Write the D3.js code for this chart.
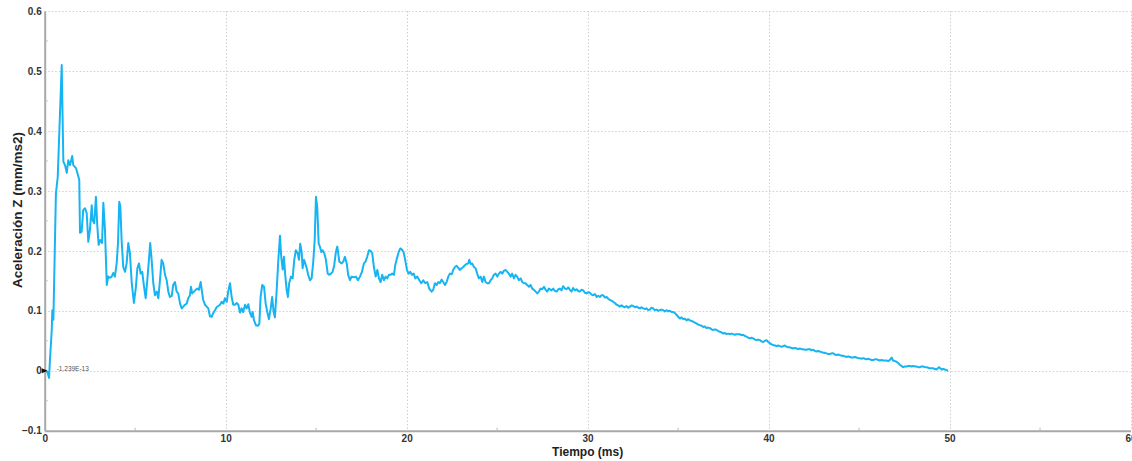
<!DOCTYPE html>
<html>
<head>
<meta charset="utf-8">
<script src="https://cdn.jsdelivr.net/npm/d3@7"></script>
<style>
  html, body { margin: 0; padding: 0; background: #ffffff; }
  svg { display: block; }
  text { font-family: "Liberation Sans", Arial, sans-serif; }
</style>
</head>
<body>
<svg id="chart" width="1132" height="461"></svg>
<script>
// Time samples (ms)
const tiempo = [
  0.00,0.15,0.24,0.29,0.39,0.42,0.48,0.62,0.72,0.94,1.03,1.12,1.22,1.30,1.40,1.52,1.58,1.73,1.86,1.91,
  1.95,2.04,2.13,2.23,2.32,2.41,2.50,2.60,2.65,2.74,2.83,2.91,2.98,3.07,3.17,3.24,3.33,3.43,3.51,3.61,
  3.70,3.79,3.88,3.98,4.05,4.12,4.18,4.25,4.34,4.44,4.53,4.62,4.71,4.81,4.93,5.04,5.12,5.21,5.30,5.39,
  5.49,5.58,5.67,5.76,5.83,5.91,6.00,6.09,6.19,6.28,6.37,6.46,6.55,6.65,6.74,6.83,6.92,7.02,7.10,7.20,
  7.29,7.38,7.48,7.57,7.66,7.75,7.85,7.93,8.03,8.08,8.15,8.25,8.34,8.43,8.52,8.62,8.69,8.76,8.86,8.95,
  9.04,9.13,9.23,9.31,9.41,9.50,9.59,9.69,9.78,9.87,9.96,10.06,10.14,10.24,10.33,10.42,10.51,10.61,10.70,10.79,
  10.88,10.97,11.07,11.16,11.25,11.34,11.44,11.49,11.56,11.67,11.78,11.86,11.93,12.02,12.12,12.21,12.30,12.39,12.49,12.57,
  12.65,12.72,12.82,12.91,13.00,13.07,13.15,13.22,13.29,13.37,13.44,13.51,13.61,13.70,13.79,13.88,13.98,14.05,14.12,14.20,
  14.25,14.33,14.40,14.48,14.56,14.66,14.75,14.84,14.92,14.99,15.06,15.14,15.21,15.28,15.36,15.45,15.54,15.64,15.72,15.82,
  15.91,16.00,16.09,16.17,16.28,16.41,16.50,16.59,16.69,16.77,16.87,16.96,17.09,17.20,17.31,17.42,17.53,17.64,17.73,17.82,
  17.92,18.01,18.10,18.19,18.29,18.38,18.47,18.56,18.65,18.75,18.84,18.93,19.02,19.12,19.20,19.30,19.37,19.46,19.56,19.65,
  19.74,19.83,19.92,20.02,20.11,20.20,20.29,20.39,20.48,20.59,20.70,20.81,20.92,21.03,21.14,21.25,21.38,21.47,21.56,21.66,
  21.75,21.84,21.93,22.02,22.12,22.21,22.30,22.39,22.49,22.57,22.67,22.76,22.85,22.94,23.04,23.13,23.22,23.31,23.40,23.46,
  23.54,23.62,23.72,23.81,23.90,23.99,24.09,24.18,24.27,24.36,24.45,24.55,24.64,24.73,24.82,24.92,25.01,25.10,25.19,25.28,
  25.38,25.47,25.56,25.65,25.75,25.83,25.93,26.02,26.11,26.20,26.30,26.39,26.48,26.57,26.66,26.76,26.85,26.94,27.03,27.13,
  27.22,27.31,27.40,27.49,27.59,27.68,27.77,27.86,28.01,28.10,28.20,28.29,28.38,28.47,28.56,28.65,28.75,28.84,28.93,29.02,
  29.11,29.20,29.30,29.39,29.48,29.57,29.67,29.76,29.85,29.94,30.04,30.13,30.22,30.31,30.41,30.50,30.59,30.68,30.77,30.86,
  30.96,31.05,31.14,31.23,31.32,31.41,31.51,31.60,31.69,31.78,31.88,31.97,32.06,32.15,32.25,32.34,32.43,32.52,32.62,32.71,
  32.80,32.89,32.98,33.07,33.17,33.26,33.35,33.44,33.53,33.62,33.72,33.81,33.90,33.99,34.09,34.18,34.27,34.36,34.46,34.55,
  34.64,34.73,34.83,34.92,35.01,35.10,35.19,35.28,35.38,35.47,35.56,35.65,35.75,35.83,35.93,36.02,36.11,36.20,36.30,36.39,
  36.48,36.57,36.67,36.76,36.85,36.94,37.04,37.13,37.22,37.31,37.40,37.49,37.59,37.68,37.77,37.86,37.95,38.04,38.14,38.23,
  38.32,38.41,38.51,38.60,38.69,38.78,38.88,38.97,39.06,39.15,39.25,39.34,39.43,39.52,39.61,39.70,39.80,39.89,39.98,40.07,
  40.16,40.25,40.35,40.44,40.53,40.62,40.72,40.81,40.90,40.99,41.09,41.18,41.27,41.36,41.46,41.55,41.64,41.73,41.82,41.91,
  42.01,42.10,42.19,42.28,42.37,42.46,42.56,42.65,42.74,42.83,42.93,43.02,43.11,43.20,43.30,43.39,43.48,43.57,43.67,43.76,
  43.85,43.94,44.03,44.12,44.22,44.31,44.40,44.49,44.58,44.67,44.77,44.86,44.95,45.04,45.14,45.23,45.32,45.41,45.51,45.60,
  45.69,45.78,45.88,45.97,46.06,46.15,46.24,46.33,46.43,46.52,46.61,46.70,46.80,46.88,46.98,47.07,47.16,47.25,47.35,47.44,
  47.53,47.62,47.72,47.81,47.90,47.99,48.09,48.18,48.27,48.36,48.45,48.54,48.64,48.73,48.82,48.91,49.01,49.10,49.19,49.28,
  49.42,49.56,49.65,49.74,49.83,49.92
];

// Acceleration Z (mm/ms2) at each sample
const aceleracionZ = [
  0.000,-0.002,-0.012,0.018,0.068,0.101,0.085,0.296,0.323,0.510,0.349,0.343,0.330,0.351,0.343,0.358,0.343,0.338,0.324,0.318,
  0.230,0.232,0.268,0.271,0.263,0.215,0.235,0.276,0.251,0.246,0.290,0.240,0.210,0.218,0.213,0.280,0.235,0.143,0.157,0.155,
  0.157,0.163,0.157,0.180,0.213,0.282,0.274,0.218,0.173,0.165,0.180,0.213,0.196,0.146,0.113,0.140,0.171,0.179,0.162,0.165,
  0.140,0.121,0.151,0.185,0.213,0.185,0.146,0.126,0.132,0.121,0.151,0.185,0.179,0.160,0.151,0.132,0.123,0.125,0.143,0.148,
  0.132,0.129,0.112,0.104,0.107,0.110,0.112,0.121,0.126,0.140,0.129,0.132,0.135,0.137,0.135,0.148,0.132,0.118,0.110,0.107,
  0.104,0.091,0.090,0.096,0.101,0.106,0.108,0.110,0.115,0.112,0.121,0.115,0.132,0.146,0.123,0.110,0.110,0.113,0.110,0.097,
  0.104,0.098,0.110,0.104,0.111,0.097,0.090,0.098,0.085,0.076,0.075,0.078,0.123,0.143,0.140,0.112,0.098,0.086,0.104,0.123,
  0.098,0.089,0.135,0.185,0.225,0.190,0.169,0.190,0.160,0.135,0.123,0.146,0.157,0.154,0.185,0.201,0.196,0.185,0.212,0.198,
  0.171,0.185,0.179,0.171,0.160,0.151,0.154,0.182,0.218,0.290,0.273,0.212,0.207,0.198,0.201,0.196,0.185,0.162,0.160,0.162,
  0.165,0.176,0.198,0.207,0.182,0.179,0.182,0.190,0.179,0.160,0.151,0.157,0.156,0.157,0.151,0.157,0.165,0.179,0.182,0.190,
  0.201,0.200,0.196,0.173,0.157,0.168,0.154,0.148,0.160,0.151,0.157,0.154,0.160,0.160,0.162,0.160,0.176,0.187,0.198,0.204,
  0.202,0.198,0.185,0.168,0.162,0.165,0.160,0.162,0.154,0.157,0.151,0.146,0.151,0.146,0.148,0.137,0.132,0.135,0.146,0.143,
  0.148,0.146,0.152,0.148,0.143,0.148,0.157,0.162,0.161,0.168,0.173,0.175,0.172,0.168,0.171,0.173,0.176,0.178,0.179,0.185,
  0.178,0.179,0.173,0.171,0.162,0.154,0.157,0.148,0.157,0.148,0.146,0.146,0.151,0.154,0.160,0.162,0.157,0.162,0.165,0.162,
  0.167,0.168,0.165,0.162,0.157,0.162,0.154,0.160,0.157,0.151,0.154,0.148,0.146,0.146,0.143,0.140,0.143,0.137,0.135,0.132,
  0.129,0.132,0.137,0.136,0.140,0.135,0.132,0.137,0.134,0.137,0.133,0.132,0.136,0.137,0.134,0.141,0.137,0.136,0.139,0.135,
  0.132,0.138,0.134,0.136,0.133,0.132,0.135,0.134,0.130,0.129,0.131,0.130,0.127,0.126,0.128,0.123,0.125,0.123,0.126,0.126,
  0.122,0.123,0.120,0.118,0.117,0.115,0.113,0.110,0.109,0.107,0.109,0.107,0.106,0.108,0.105,0.107,0.109,0.108,0.106,0.107,
  0.105,0.104,0.106,0.104,0.103,0.104,0.101,0.102,0.105,0.104,0.101,0.102,0.100,0.101,0.102,0.101,0.099,0.101,0.099,0.100,
  0.098,0.098,0.096,0.093,0.090,0.087,0.089,0.086,0.087,0.084,0.086,0.084,0.083,0.082,0.080,0.079,0.077,0.076,0.075,0.073,
  0.074,0.071,0.072,0.071,0.069,0.068,0.069,0.068,0.066,0.065,0.064,0.062,0.063,0.061,0.062,0.061,0.062,0.061,0.060,0.061,
  0.061,0.061,0.059,0.060,0.058,0.057,0.055,0.054,0.055,0.054,0.052,0.051,0.052,0.051,0.049,0.048,0.050,0.051,0.048,0.046,
  0.044,0.043,0.042,0.041,0.042,0.041,0.040,0.041,0.042,0.040,0.039,0.039,0.038,0.037,0.038,0.037,0.036,0.037,0.036,0.036,
  0.035,0.035,0.036,0.036,0.034,0.035,0.033,0.032,0.033,0.032,0.031,0.030,0.030,0.029,0.028,0.028,0.029,0.029,0.027,0.026,
  0.027,0.026,0.025,0.025,0.024,0.023,0.024,0.023,0.022,0.022,0.023,0.022,0.021,0.021,0.020,0.021,0.020,0.019,0.020,0.019,
  0.018,0.018,0.019,0.019,0.018,0.017,0.018,0.017,0.017,0.017,0.016,0.018,0.022,0.017,0.016,0.015,0.013,0.010,0.008,0.006,
  0.007,0.007,0.008,0.008,0.007,0.008,0.007,0.007,0.006,0.006,0.007,0.007,0.006,0.006,0.005,0.004,0.004,0.004,0.003,0.002,
  0.006,0.002,0.003,0.002,0.001,0.000
];

const xTicks = [0, 10, 20, 30, 40, 50, 60];
const yTicks = [-0.1, 0, 0.1, 0.2, 0.3, 0.4, 0.5, 0.6];
const xMinorTicks = [5, 15, 25, 35, 45, 55];
const yMinorTicks = [-0.05, 0.05, 0.15, 0.25, 0.35, 0.45, 0.55];

const xTitle = "Tiempo (ms)";
const yTitle = "Aceleración Z (mm/ms2)";
const originLabel = "-1.239E-13";

const svg = d3.select("#chart");
const plot = { left: 44.7, right: 1130.5, top: 11, bottom: 430.7 };

const x = d3.scaleLinear().domain([0, 60]).range([plot.left, plot.right]);
const y = d3.scaleLinear().domain([-0.1, 0.6]).range([plot.bottom, plot.top]);

// dotted grid
const grid = svg.append("g").attr("stroke", "#cfcfcf").attr("stroke-width", 1)
  .attr("stroke-dasharray", "1.5,2");
grid.selectAll("line.gx").data(xTicks.slice(1)).join("line")
  .attr("x1", d => Math.round(x(d)) + 0.5).attr("x2", d => Math.round(x(d)) + 0.5)
  .attr("y1", plot.top).attr("y2", plot.bottom);
grid.selectAll("line.gy").data(yTicks.slice(1)).join("line")
  .attr("x1", plot.left).attr("x2", plot.right)
  .attr("y1", d => Math.round(y(d)) + 0.5).attr("y2", d => Math.round(y(d)) + 0.5);

// axes
const xAxis = d3.axisBottom(x).tickValues(xTicks).tickSize(0).tickPadding(4)
  .tickFormat(d3.format("d"));
const yAxis = d3.axisLeft(y).tickValues(yTicks).tickSize(0).tickPadding(3)
  .tickFormat(d => d === 0 ? "0" : d3.format(".1f")(d));

const gx = svg.append("g").attr("transform", `translate(0,${plot.bottom})`).call(xAxis);
const gy = svg.append("g").attr("transform", `translate(${plot.left},0)`).call(yAxis);
[gx, gy].forEach(g => {
  g.select(".domain").attr("stroke", "#a8a8a8").attr("stroke-width", 2);
  g.selectAll(".tick text")
    .attr("fill", "#333")
    .style("font-size", "10px")
    .style("font-weight", "bold")
    .style("font-family", "'Liberation Sans', Arial, sans-serif");
});

// minor ticks
svg.append("g").selectAll("line").data(xMinorTicks).join("line")
  .attr("x1", d => x(d)).attr("x2", d => x(d))
  .attr("y1", plot.bottom - 3).attr("y2", plot.bottom)
  .attr("stroke", "#b8b8b8").attr("stroke-width", 1);
svg.append("g").selectAll("line").data(yMinorTicks).join("line")
  .attr("x1", plot.left).attr("x2", plot.left + 3)
  .attr("y1", d => y(d)).attr("y2", d => y(d))
  .attr("stroke", "#b8b8b8").attr("stroke-width", 1);

// axis titles
svg.append("text")
  .attr("x", (plot.left + plot.right) / 2).attr("y", 456)
  .attr("text-anchor", "middle")
  .attr("fill", "#222")
  .style("font-size", "12px").style("font-weight", "bold")
  .text(xTitle);
svg.append("text")
  .attr("transform", `translate(22,210) rotate(-90)`)
  .attr("text-anchor", "middle")
  .attr("fill", "#222")
  .style("font-size", "13.5px").style("font-weight", "bold")
  .text(yTitle);

// acceleration trace
const data = tiempo.map((t, i) => [t, aceleracionZ[i]]);
const line = d3.line().x(d => x(d[0])).y(d => y(d[1]));
svg.append("path")
  .datum(data)
  .attr("d", line)
  .attr("fill", "none")
  .attr("stroke", "#17b4f3")
  .attr("stroke-width", 2)
  .attr("stroke-linejoin", "round");

// origin marker with its value label
const ox = x(tiempo[0]), oy = y(aceleracionZ[0]);
svg.append("path")
  .attr("d", `M${ox - 3},${oy - 2.5} L${ox + 3},${oy} L${ox - 3},${oy + 2.5} Z`)
  .attr("fill", "#111");
svg.append("text")
  .attr("x", ox + 12).attr("y", oy)
  .attr("dy", "0.1em")
  .attr("fill", "#555")
  .style("font-size", "6.5px")
  .text(originLabel);
</script>
</body>
</html>
